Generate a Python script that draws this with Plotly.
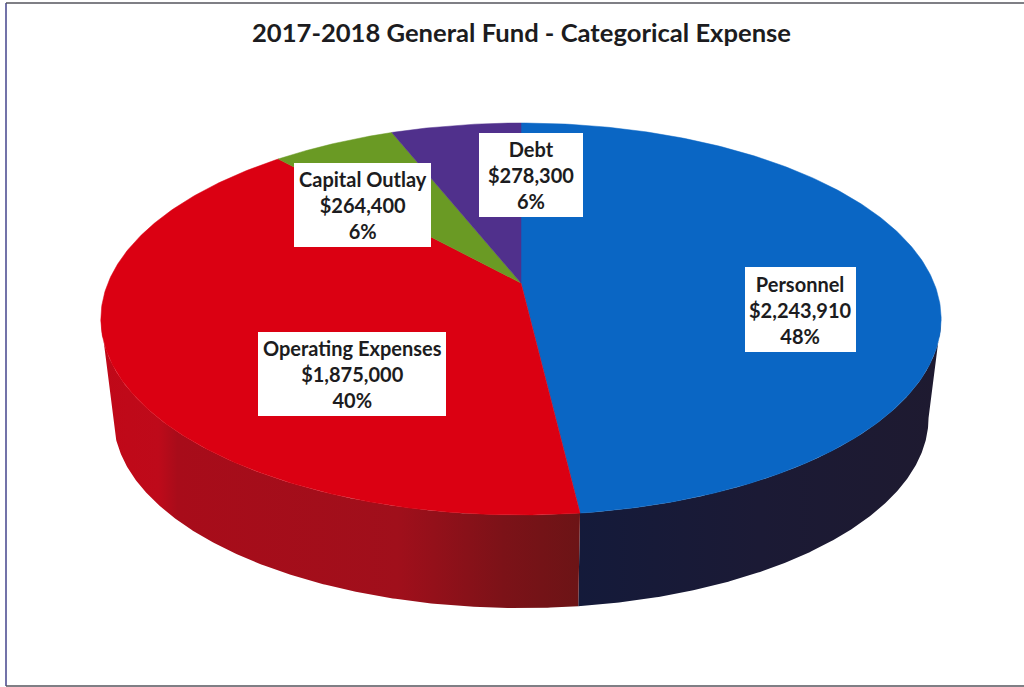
import numpy as np
import plotly.graph_objects as go

# ---- data ----
title_text = "2017-2018 General Fund - Categorical Expense"
categories = ["Personnel", "Operating Expenses", "Capital Outlay", "Debt"]
values = [2243910, 1875000, 264400, 278300]
percent_labels = ["48%", "40%", "6%", "6%"]
amount_labels = ["$2,243,910", "$1,875,000", "$264,400", "$278,300"]

face_colors = ["#0A66C4", "#DB0012", "#6A9A24", "#50308C"]
wall_stops = {
    "Personnel": [[0, "#141A3A"], [0.5, "#1B1A35"], [1, "#1E1A30"]],
    "Operating Expenses": [[0, "#C00818"], [0.12, "#BE0A1A"], [0.16, "#A80C1A"],
                           [0.62, "#A00F1B"], [0.84, "#7C1218"], [1, "#6C1416"]],
}
label_boxes = {
    "Personnel": (745, 856, 267, 352),
    "Operating Expenses": (258, 446, 332, 416),
    "Capital Outlay": (294, 431, 163, 247),
    "Debt": (479, 583, 133, 217),
}

# ---- perspective disc geometry (canvas pixels) ----
CX, CY = 521.0, 283.0
RX, RY, PERSP = 413.0, 189.4, 0.1837
WALL_SHIFT, WALL_SCALE = 100.0, 0.97


def rim(theta, shift=0.0, scale=1.0):
    u, v = np.sin(theta), np.cos(theta)
    w = 1 + PERSP * v
    return CX + scale * RX * u / w, CY + shift - scale * RY * v / w


fracs = np.array(values, dtype=float) / np.sum(values)
edges = np.concatenate([[0.0], np.cumsum(fracs)]) * 2 * np.pi

# silhouette angles: the wall is only visible between these two
sil_right = np.arccos(-PERSP)
sil_left = 2 * np.pi - sil_right

fig = go.Figure()

# side walls (the near-side slices only are visible)
for i, name in enumerate(categories[:2]):
    a = max(edges[i], sil_right)
    b = min(edges[i + 1], sil_left)
    th = np.linspace(a, b, 240)
    tx, ty = rim(th)
    bx, by = rim(th[::-1], WALL_SHIFT, WALL_SCALE)
    fig.add_trace(go.Scatter(
        x=np.concatenate([tx, bx]), y=np.concatenate([ty, by]),
        mode="lines", line=dict(width=0), fill="toself",
        fillgradient=dict(type="horizontal", colorscale=wall_stops[name]),
        hoverinfo="skip", showlegend=False))

# top faces
for i, name in enumerate(categories):
    th = np.linspace(edges[i], edges[i + 1], 240)
    tx, ty = rim(th)
    fig.add_trace(go.Scatter(
        x=np.concatenate([[CX], tx, [CX]]), y=np.concatenate([[CY], ty, [CY]]),
        mode="lines", line=dict(width=0.5, color=face_colors[i]),
        fill="toself", fillcolor=face_colors[i],
        name=name, hoverinfo="name", showlegend=False))

# label boxes and text
shapes = []
annotations = []
for name, amt, pct in zip(categories, amount_labels, percent_labels):
    x0, x1, y0, y1 = label_boxes[name]
    shapes.append(dict(type="rect", x0=x0, x1=x1, y0=y0, y1=y1,
                       fillcolor="white", line=dict(width=0), layer="above"))
    annotations.append(dict(
        x=(x0 + x1) / 2, y=(y0 + y1) / 2, xref="x", yref="y", showarrow=False,
        text=f"<b>{name}<br>{amt}<br>{pct}</b>", align="center",
        font=dict(family="Lato", size=20, color="#1C1C20")))

# scanned page frame
shapes += [
    dict(type="line", x0=6, x1=6, y0=3, y1=686, line=dict(color="#45458C", width=1.5)),
    dict(type="line", x0=6, x1=1024, y0=3, y1=3, line=dict(color="#55555C", width=1.5)),
    dict(type="line", x0=6, x1=1024, y0=686, y1=686, line=dict(color="#55555C", width=1.5)),
]

annotations.append(dict(
    x=521.5, y=32, xref="x", yref="y", showarrow=False,
    text=f"<b>{title_text}</b>",
    font=dict(family="Lato", size=25.6, color="#1C1C20")))

fig.update_layout(
    width=1024, height=687, margin=dict(l=0, r=0, t=0, b=0),
    paper_bgcolor="white", plot_bgcolor="white",
    xaxis=dict(range=[0, 1024], visible=False, fixedrange=True),
    yaxis=dict(range=[687, 0], visible=False, fixedrange=True),
    shapes=shapes, annotations=annotations, showlegend=False)

fig.write_html(
    "out.html", config=dict(displayModeBar=False),
    post_script="document.body.style.margin='0';document.documentElement.style.overflow='hidden';")
